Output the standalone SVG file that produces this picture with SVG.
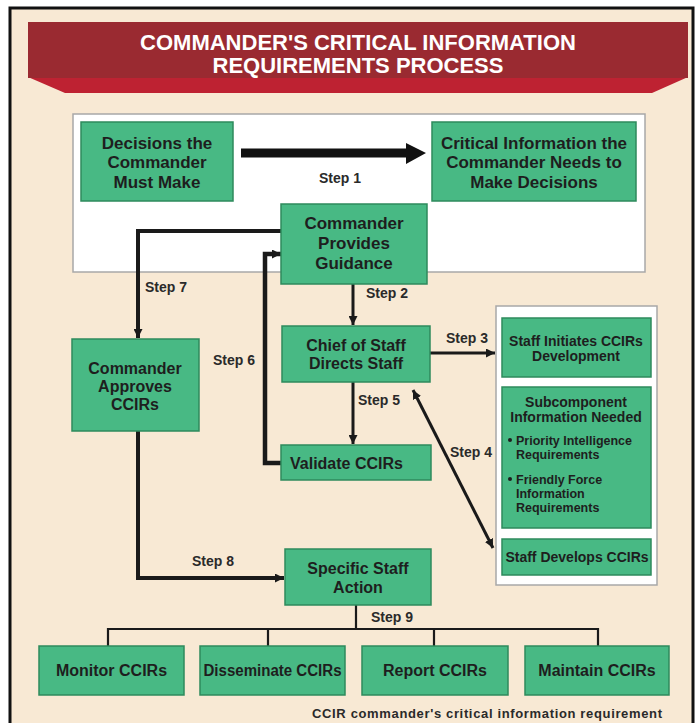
<svg xmlns="http://www.w3.org/2000/svg" width="698" height="723" viewBox="0 0 698 723">
  <style>
    .box { fill: #48B984; stroke: #2E8A5C; stroke-width: 1.5; }
    .panel { fill: #FFFFFF; stroke: #A8A8A8; stroke-width: 1.5; }
    .t { font-family: "Liberation Sans", Arial, sans-serif; font-weight: bold; fill: #1E1E1E; text-anchor: middle; }
    .t17 { font-size: 17px; }
    .t16 { font-size: 16px; }
    .t14 { font-size: 14px; }
    .t12 { font-size: 12.5px; }
    .lbl { font-family: "Liberation Sans", Arial, sans-serif; font-weight: bold; font-size: 14px; fill: #2A2A2A; }
    .title { font-family: "Liberation Sans", Arial, sans-serif; font-weight: bold; font-size: 22px; fill: #FFFFFF; text-anchor: middle; }
    .wire { fill: none; stroke: #1A1A1A; stroke-linejoin: miter; }
  </style>
  <defs>
    <marker id="head" viewBox="0 0 10 10" refX="10" refY="5" markerWidth="9" markerHeight="9" markerUnits="userSpaceOnUse" orient="auto-start-reverse">
      <path d="M0,0 L10,5 L0,10 Z" fill="#1A1A1A"/>
    </marker>
  </defs>

  <!-- page frame -->
  <rect x="10" y="8" width="683" height="740" fill="#F8E9D4" stroke="#111111" stroke-width="3"/>

  <!-- title ribbon -->
  <g id="title">
    <polygon points="28,77 688,77 652,93 65,93" fill="#BE2232"/>
    <rect x="28" y="22" width="660" height="56" fill="#9A2A31"/>
    <text class="title" x="358" y="50">COMMANDER'S CRITICAL INFORMATION</text>
    <text class="title" x="358" y="73">REQUIREMENTS PROCESS</text>
  </g>

  <!-- white panels -->
  <rect class="panel" x="73" y="114" width="572" height="158"/>
  <rect class="panel" x="496" y="306" width="161" height="279"/>

  <!-- connectors -->
  <g id="connectors">
    <!-- Step 1 -->
    <polygon points="241,148.5 406,148.5 406,143 426,153 406,164 406,157.5 241,157.5" fill="#111111"/>
    <!-- Step 2 -->
    <path class="wire" d="M353,284 V325" stroke-width="3" marker-end="url(#head)"/>
    <!-- Step 3 -->
    <path class="wire" d="M430,353 H495" stroke-width="3" marker-end="url(#head)"/>
    <!-- Step 4 -->
    <path class="wire" d="M413,390 L493,548" stroke-width="3" marker-start="url(#head)" marker-end="url(#head)"/>
    <!-- Step 5 -->
    <path class="wire" d="M353,382 V444" stroke-width="3" marker-end="url(#head)"/>
    <!-- Step 6 -->
    <path class="wire" d="M281,463 H265 V254 H281" stroke-width="4.5" marker-end="url(#head)"/>
    <!-- Step 7 -->
    <path class="wire" d="M281,231 H138 V338" stroke-width="4" marker-end="url(#head)"/>
    <!-- Step 8 -->
    <path class="wire" d="M138,431 V578 H284" stroke-width="4" marker-end="url(#head)"/>
    <!-- Step 9 -->
    <path class="wire" d="M356,605 V629 M108,646 V629 H598 V646 M268,629 V646 M434,629 V646" stroke-width="2.2"/>
  </g>

  <!-- step labels -->
  <g id="labels">
    <text class="lbl" x="319" y="183">Step 1</text>
    <text class="lbl" x="366" y="298">Step 2</text>
    <text class="lbl" x="446" y="343">Step 3</text>
    <text class="lbl" x="450" y="457">Step 4</text>
    <text class="lbl" x="358" y="405">Step 5</text>
    <text class="lbl" x="213" y="365">Step 6</text>
    <text class="lbl" x="145" y="292">Step 7</text>
    <text class="lbl" x="192" y="566">Step 8</text>
    <text class="lbl" x="371" y="622">Step 9</text>
  </g>

  <g id="decisions">
    <rect class="box" x="81" y="122" width="152" height="79"/>
    <text class="t t17" x="157" y="149">Decisions the</text>
    <text class="t t17" x="157" y="168">Commander</text>
    <text class="t t17" x="157" y="188">Must Make</text>
  </g>

  <g id="critical-info">
    <rect class="box" x="432" y="122" width="204" height="79"/>
    <text class="t t17" x="534" y="149">Critical Information the</text>
    <text class="t t17" x="534" y="168">Commander Needs to</text>
    <text class="t t17" x="534" y="188">Make Decisions</text>
  </g>

  <g id="guidance">
    <rect class="box" x="281" y="204" width="146" height="80"/>
    <text class="t t17" x="354" y="229">Commander</text>
    <text class="t t17" x="354" y="249">Provides</text>
    <text class="t t17" x="354" y="269">Guidance</text>
  </g>

  <g id="chief-of-staff">
    <rect class="box" x="282" y="326" width="148" height="56"/>
    <text class="t t16" x="356" y="351">Chief of Staff</text>
    <text class="t t16" x="356" y="369">Directs Staff</text>
  </g>

  <g id="approves">
    <rect class="box" x="72" y="339" width="127" height="92"/>
    <text class="t t16" x="135" y="374">Commander</text>
    <text class="t t16" x="135" y="392">Approves</text>
    <text class="t t16" x="135" y="410">CCIRs</text>
  </g>

  <g id="validate">
    <rect class="box" x="281" y="445" width="150" height="35"/>
    <text class="t t16" x="290" y="469" style="text-anchor:start">Validate CCIRs</text>
  </g>

  <g id="staff-initiates">
    <rect class="box" x="502" y="318" width="149" height="59"/>
    <text class="t t14" x="576" y="346">Staff Initiates CCIRs</text>
    <text class="t t14" x="576" y="361">Development</text>
  </g>

  <g id="subcomponent">
    <rect class="box" x="502" y="387" width="149" height="141"/>
    <text class="t t14" x="576" y="407">Subcomponent</text>
    <text class="t t14" x="576" y="422">Information Needed</text>
    <g style="text-anchor:start">
      <circle cx="510" cy="440" r="2" fill="#1E1E1E"/>
      <text class="t t12" x="516" y="445" style="text-anchor:start">Priority Intelligence</text>
      <text class="t t12" x="516" y="459" style="text-anchor:start">Requirements</text>
      <circle cx="510" cy="479" r="2" fill="#1E1E1E"/>
      <text class="t t12" x="516" y="484" style="text-anchor:start">Friendly Force</text>
      <text class="t t12" x="516" y="498" style="text-anchor:start">Information</text>
      <text class="t t12" x="516" y="512" style="text-anchor:start">Requirements</text>
    </g>
  </g>

  <g id="staff-develops">
    <rect class="box" x="502" y="539" width="149" height="36"/>
    <text class="t t14" x="577" y="562">Staff Develops CCIRs</text>
  </g>

  <g id="specific-action">
    <rect class="box" x="285" y="549" width="146" height="56"/>
    <text class="t t16" x="358" y="574">Specific Staff</text>
    <text class="t t16" x="358" y="593">Action</text>
  </g>

  <g id="monitor">
    <rect class="box" x="39" y="646" width="145" height="49"/>
    <text class="t t16" x="111.5" y="676">Monitor CCIRs</text>
  </g>

  <g id="disseminate">
    <rect class="box" x="200" y="646" width="145" height="49"/>
    <text class="t t16" x="272.5" y="676" textLength="138" lengthAdjust="spacingAndGlyphs">Disseminate CCIRs</text>
  </g>

  <g id="report">
    <rect class="box" x="362" y="646" width="146" height="49"/>
    <text class="t t16" x="435" y="676">Report CCIRs</text>
  </g>

  <g id="maintain">
    <rect class="box" x="525" y="646" width="144" height="49"/>
    <text class="t t16" x="597" y="676">Maintain CCIRs</text>
  </g>

  <text class="lbl" x="312" y="718" style="font-size:13px" textLength="350" lengthAdjust="spacing">CCIR  commander's critical information requirement</text>
</svg>
